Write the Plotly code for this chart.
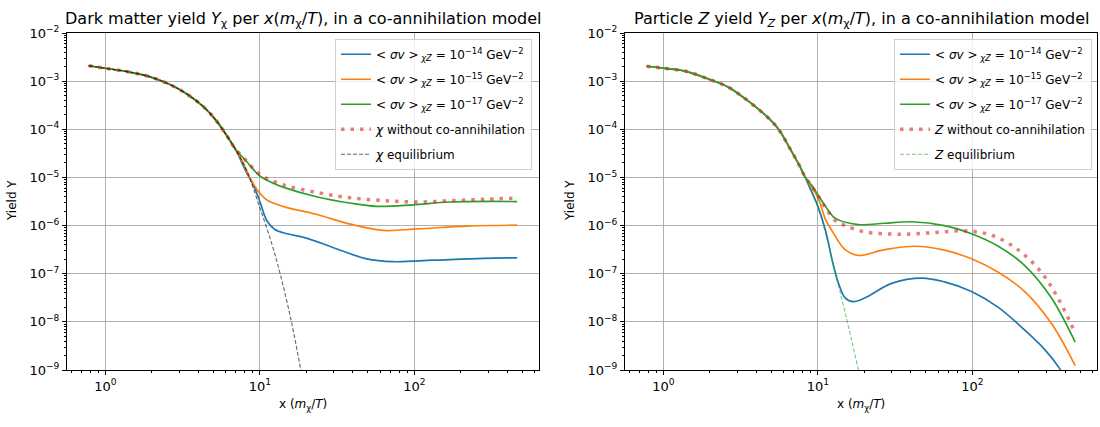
import plotly.graph_objects as go

# ---------------- Left panel: dark matter yield Y_chi ----------------
chi_common_x = [0.78, 1.0, 1.38, 1.95, 2.62, 3.37, 4.31, 5.25, 6.1, 6.9]
chi_common_y = [2.09e-3, 1.85e-3, 1.58e-3, 1.23e-3, 8.5e-4, 5.4e-4, 2.95e-4, 1.48e-4, 7.4e-5, 4.0e-5]

chi_s14_x = [8.2, 9.2, 10, 11.1, 12.5, 15, 20, 30, 49, 73, 133, 280, 462]
chi_s14_y = [1.26e-5, 6.31e-6, 3.16e-6, 1.26e-6, 8.3e-7, 6.76e-7, 5.5e-7, 3.47e-7,
             2.04e-7, 1.78e-7, 1.91e-7, 2.09e-7, 2.14e-7]

chi_s15_x = [7.8, 8.6, 10, 11.1, 14.1, 23.4, 38.5, 63, 104, 219, 462]
chi_s15_y = [2.0e-5, 1.0e-5, 4.68e-6, 3.39e-6, 2.51e-6, 1.70e-6, 1.07e-6, 7.94e-7, 8.51e-7, 9.77e-7, 1.02e-6]

chi_s17_x = [8.2, 10, 12, 14.1, 23.2, 38, 56.6, 97.5, 168, 462]
chi_s17_y = [2.14e-5, 1.07e-5, 7.76e-6, 6.31e-6, 3.98e-6, 2.95e-6, 2.51e-6, 2.69e-6, 3.09e-6, 3.16e-6]

chi_noco_x = [8.2, 10, 14.1, 23.2, 38, 63, 104, 180, 300, 462]
chi_noco_y = [2.19e-5, 1.15e-5, 7.08e-6, 4.9e-6, 3.8e-6, 3.31e-6, 3.09e-6, 3.31e-6, 3.55e-6, 3.72e-6]

chi_eq_x = [8.2, 10, 12, 13.6, 16, 18.3, 20]
chi_eq_y = [1.41e-5, 2.34e-6, 3.98e-7, 9.33e-8, 1.0e-8, 1.1e-9, 2.51e-10]

# ---------------- Right panel: particle Z yield Y_Z ----------------
z_common_x = [0.78, 1.0, 1.38, 1.97, 2.62, 3.4, 4.8, 5.57, 6.6, 7.5, 8.3]
z_common_y = [2.04e-3, 1.86e-3, 1.62e-3, 1.10e-3, 7.59e-4, 4.27e-4, 1.70e-4, 1.0e-4, 3.98e-5, 1.91e-5, 1.0e-5]

z_s14_x = [8.7, 10, 11.2, 12.5, 13.6, 15, 17, 20.2, 30, 47, 66, 98.6, 147, 218, 293, 367, 462]
z_s14_y = [7.08e-6, 2.51e-6, 7.94e-7, 1.66e-7, 6.31e-8, 3.16e-8, 2.63e-8, 3.16e-8, 6.31e-8, 8.13e-8,
           6.76e-8, 4.27e-8, 2.0e-8, 6.76e-9, 2.69e-9, 1.07e-9, 2.82e-10]

z_s15_x = [8.7, 10, 11.2, 12.3, 15, 18.3, 27, 42.5, 66, 98.6, 147, 218, 324, 462]
z_s15_y = [7.94e-6, 3.8e-6, 1.35e-6, 7.94e-7, 3.16e-7, 2.4e-7, 3.16e-7, 3.72e-7, 3.09e-7, 2.04e-7,
           1.07e-7, 4.27e-8, 9.33e-9, 1.23e-9]

z_s17_x = [9.2, 10, 11.2, 13, 18.3, 27, 40.5, 66, 98.6, 147, 218, 324, 462]
z_s17_y = [6.61e-6, 4.37e-6, 2.51e-6, 1.41e-6, 1.05e-6, 1.12e-6, 1.20e-6, 1.0e-6, 6.76e-7, 3.72e-7,
           1.48e-7, 3.16e-8, 3.8e-9]

z_noco_x = [9.2, 10, 11.2, 13, 15, 20.2, 33, 54, 89, 133, 197, 279, 357, 462]
z_noco_y = [6.31e-6, 4.17e-6, 2.34e-6, 1.26e-6, 1.0e-6, 7.41e-7, 6.61e-7, 7.08e-7, 7.76e-7, 6.31e-7,
            3.16e-7, 1.07e-7, 3.16e-8, 5.89e-9]

z_eq_x = [8.7, 10, 11.2, 12.5, 13.6, 15, 16.5, 18.3, 19.5]
z_eq_y = [6.76e-6, 2.4e-6, 7.08e-7, 1.66e-7, 5.62e-8, 1.58e-8, 4.27e-9, 1.0e-9, 3.98e-10]

# tick labels
x_tickvals = [1, 10, 100]
x_ticktext = ["10<sup>0</sup>", "10<sup>1</sup>", "10<sup>2</sup>"]
y_tickvals = [1e-9, 1e-8, 1e-7, 1e-6, 1e-5, 1e-4, 1e-3, 1e-2]
y_ticktext = ["10<sup>−9</sup>", "10<sup>−8</sup>", "10<sup>−7</sup>", "10<sup>−6</sup>",
              "10<sup>−5</sup>", "10<sup>−4</sup>", "10<sup>−3</sup>", "10<sup>−2</sup>"]

sigma_labels = [
    "&lt; <i>σv</i> &gt;<sub> <i>χZ</i></sub> = 10<sup>−14</sup> GeV<sup>−2</sup>",
    "&lt; <i>σv</i> &gt;<sub> <i>χZ</i></sub> = 10<sup>−15</sup> GeV<sup>−2</sup>",
    "&lt; <i>σv</i> &gt;<sub> <i>χZ</i></sub> = 10<sup>−17</sup> GeV<sup>−2</sup>",
]

BLUE, ORANGE, GREEN = "#1f77b4", "#ff7f0e", "#2ca02c"
DOT_COLOR = "rgba(214,39,40,0.6)"

fig = go.Figure()


def add_panel(common_x, common_y, series, noco, eq, eq_color, names, xa, ya, leg):
    colors = [BLUE, ORANGE, GREEN]
    k = 0
    for (sx, sy), col, nm in zip(series, colors, sigma_labels):
        fig.add_trace(go.Scatter(x=common_x + sx, y=common_y + sy, mode="lines", name=nm,
                                 line=dict(color=col, width=1.7, shape="spline"),
                                 xaxis=xa, yaxis=ya, legend=leg, legendgroup=f"{leg}{k}"))
        k += 1
    fig.add_trace(go.Scatter(x=common_x + noco[0], y=common_y + noco[1], mode="lines", name=names[0],
                             line=dict(color=DOT_COLOR, width=3.5, dash="3.5px,6px", shape="spline"),
                             xaxis=xa, yaxis=ya, legend=leg, legendgroup=f"{leg}3"))
    fig.add_trace(go.Scatter(x=common_x + eq[0], y=common_y + eq[1], mode="lines", name=names[1],
                             line=dict(color=eq_color, width=1.1, dash="4px,2px", shape="spline"),
                             xaxis=xa, yaxis=ya, legend=leg, legendgroup=f"{leg}4"))


add_panel(chi_common_x, chi_common_y,
          [(chi_s14_x, chi_s14_y), (chi_s15_x, chi_s15_y), (chi_s17_x, chi_s17_y)],
          (chi_noco_x, chi_noco_y), (chi_eq_x, chi_eq_y), "rgba(0,0,0,0.6)",
          ["<i>χ</i> without co-annihilation", "<i>χ</i> equilibrium"], "x", "y", "legend")
add_panel(z_common_x, z_common_y,
          [(z_s14_x, z_s14_y), (z_s15_x, z_s15_y), (z_s17_x, z_s17_y)],
          (z_noco_x, z_noco_y), (z_eq_x, z_eq_y), "rgba(44,160,44,0.6)",
          ["<i>Z</i> without co-annihilation", "<i>Z</i> equilibrium"], "x2", "y2", "legend2")

W, H = 1100, 427
ax_common = dict(showline=True, linecolor="black", linewidth=1, mirror=True,
                 ticks="outside", ticklen=4, tickcolor="black", tickwidth=1,
                 showgrid=True, gridcolor="#b0b0b0", gridwidth=1, zeroline=False,
                 tickfont=dict(size=13, color="black"), type="log",
                 minor=dict(ticks="outside", ticklen=2, tickcolor="black", tickwidth=0.8,
                            dtick="D1", showgrid=False))

xr = [-0.248, 2.806]
yr = [-9, -2]
ydom = [1 - 376 / H, 1 - 25 / H]
xdom1 = [67 / W, 539 / W]
xdom2 = [625 / W, 1097 / W]

leg_common = dict(y=1 - 31 / H, xanchor="right", yanchor="top",
                  bgcolor="rgba(255,255,255,0.8)", bordercolor="#d0d0d0", borderwidth=1,
                  font=dict(size=12), itemwidth=30, tracegroupgap=6)

fig.update_layout(
    width=W, height=H, margin=dict(l=0, r=0, t=0, b=0),
    paper_bgcolor="white", plot_bgcolor="white",
    font=dict(family="DejaVu Sans", size=12, color="black"),
    xaxis=dict(ax_common, domain=xdom1, anchor="y", range=xr, tickmode="array",
               tickvals=x_tickvals, ticktext=x_ticktext),
    yaxis=dict(ax_common, domain=ydom, anchor="x", range=yr, tickmode="array",
               tickvals=y_tickvals, ticktext=y_ticktext),
    xaxis2=dict(ax_common, domain=xdom2, anchor="y2", range=xr, tickmode="array",
                tickvals=x_tickvals, ticktext=x_ticktext),
    yaxis2=dict(ax_common, domain=ydom, anchor="x2", range=yr, tickmode="array",
                tickvals=y_tickvals, ticktext=y_ticktext),
    legend=dict(leg_common, x=532 / W),
    legend2=dict(leg_common, x=1092 / W),
)

titles = [
    ((xdom1[0] + xdom1[1]) / 2,
     "Dark matter yield <i>Y</i><sub>χ</sub> per <i>x</i>(<i>m</i><sub>χ</sub>/<i>T</i>), in a co-annihilation model"),
    ((xdom2[0] + xdom2[1]) / 2,
     "Particle <i>Z</i> yield <i>Y</i><sub><i>Z</i></sub> per <i>x</i>(<i>m</i><sub>χ</sub>/<i>T</i>), in a co-annihilation model"),
]
for xc, t in titles:
    fig.add_annotation(x=xc, y=1 - 11 / H, xref="paper", yref="paper", text=t, showarrow=False,
                       xanchor="center", yanchor="middle", font=dict(size=16))
    fig.add_annotation(x=xc, y=1 - 412 / H, xref="paper", yref="paper",
                       text="x (<i>m</i><sub>χ</sub>/<i>T</i>)", showarrow=False,
                       xanchor="center", yanchor="middle", font=dict(size=12))
for xl in [12, 570]:
    fig.add_annotation(x=xl / W, y=1 - 200 / H, xref="paper", yref="paper", text="Yield Y",
                       showarrow=False, textangle=-90, xanchor="center", yanchor="middle",
                       font=dict(size=12))

fig.write_html("out.html")
